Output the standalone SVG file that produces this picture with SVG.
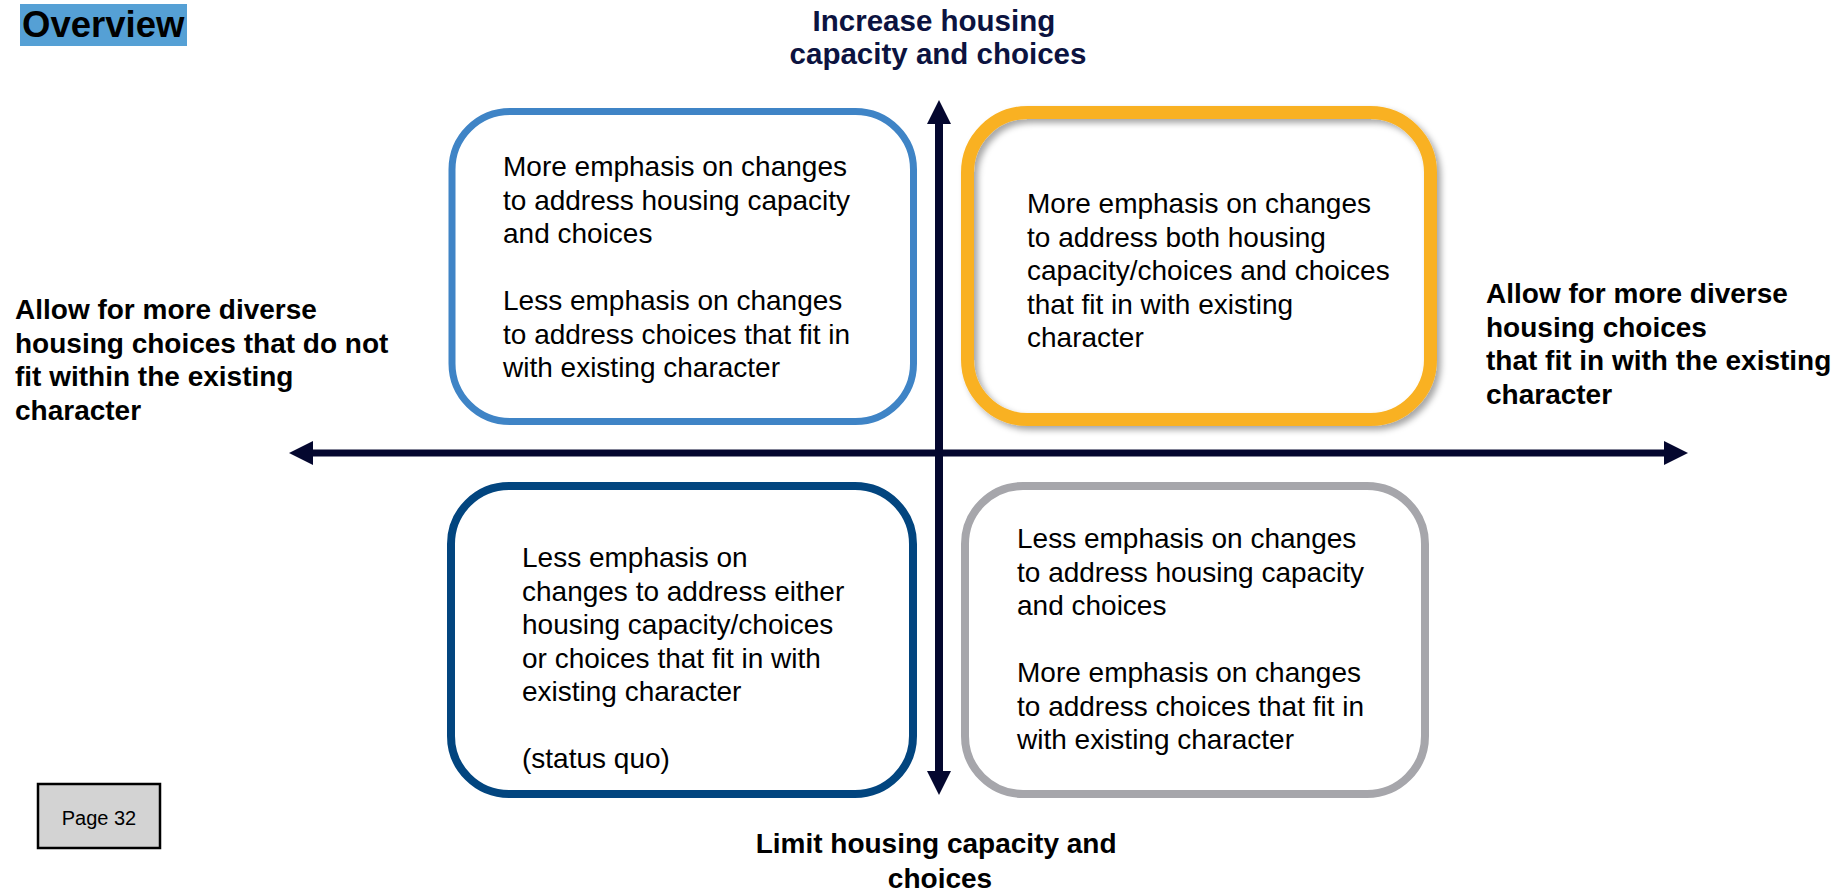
<svg xmlns="http://www.w3.org/2000/svg" width="1834" height="891" viewBox="0 0 1834 891">
  <style>
    text { font-family: "Liberation Sans", Arial, sans-serif; }
    .body { font-size: 28px; fill: #000000; }
    .lbl { font-size: 28px; font-weight: bold; fill: #000000; }
    .box { fill: #ffffff; }
    .axis { stroke: #04072F; fill: none; }
  </style>
  <defs>
    <marker id="head" viewBox="0 0 24 24" refX="0" refY="12" markerWidth="24" markerHeight="24" markerUnits="userSpaceOnUse" orient="auto-start-reverse">
      <path d="M0,0 L24,12 L0,24 z" fill="#04072F"/>
    </marker>
    <filter id="shadow" x="-10%" y="-10%" width="125%" height="125%">
      <feDropShadow dx="4" dy="4" stdDeviation="3" flood-color="#000000" flood-opacity="0.35"/>
    </filter>
  </defs>

  <rect x="0" y="0" width="1834" height="891" fill="#ffffff"/>

  <g id="title">
    <rect x="20" y="4" width="167" height="42" fill="#55A0D5"/>
    <text x="22" y="37" font-size="36.5" font-weight="bold" fill="#000000">Overview</text>
  </g>

  <g id="box-top-left">
    <rect class="box" x="452" y="111.5" width="461.5" height="310" rx="58" ry="58" stroke="#3F84C6" stroke-width="7"/>
    <text class="body" x="503">
      <tspan x="503" y="176">More emphasis on changes</tspan>
      <tspan x="503" y="209.5">to address housing capacity</tspan>
      <tspan x="503" y="243">and choices</tspan>
      <tspan x="503" y="310">Less emphasis on changes</tspan>
      <tspan x="503" y="343.5">to address choices that fit in</tspan>
      <tspan x="503" y="377">with existing character</tspan>
    </text>
  </g>

  <g id="box-top-right">
    <rect x="967.5" y="112.5" width="463" height="307" rx="60" ry="60" fill="none" stroke="#F9B122" stroke-width="13" filter="url(#shadow)"/>
    <text class="body" x="1027">
      <tspan x="1027" y="213">More emphasis on changes</tspan>
      <tspan x="1027" y="246.5">to address both housing</tspan>
      <tspan x="1027" y="280">capacity/choices and choices</tspan>
      <tspan x="1027" y="313.5">that fit in with existing</tspan>
      <tspan x="1027" y="347">character</tspan>
    </text>
  </g>

  <g id="box-bottom-left">
    <rect class="box" x="451" y="486" width="462" height="308" rx="58" ry="58" stroke="#02457F" stroke-width="8"/>
    <text class="body" x="522">
      <tspan x="522" y="567">Less emphasis on</tspan>
      <tspan x="522" y="600.5">changes to address either</tspan>
      <tspan x="522" y="634">housing capacity/choices</tspan>
      <tspan x="522" y="667.5">or choices that fit in with</tspan>
      <tspan x="522" y="701">existing character</tspan>
      <tspan x="522" y="768">(status quo)</tspan>
    </text>
  </g>

  <g id="box-bottom-right">
    <rect class="box" x="965" y="486" width="460" height="308" rx="58" ry="58" stroke="#A6A6AB" stroke-width="8"/>
    <text class="body" x="1017">
      <tspan x="1017" y="548">Less emphasis on changes</tspan>
      <tspan x="1017" y="581.5">to address housing capacity</tspan>
      <tspan x="1017" y="615">and choices</tspan>
      <tspan x="1017" y="682">More emphasis on changes</tspan>
      <tspan x="1017" y="715.5">to address choices that fit in</tspan>
      <tspan x="1017" y="749">with existing character</tspan>
    </text>
  </g>

  <g id="connectors">
    <line class="axis" x1="313" y1="453" x2="1664" y2="453" stroke-width="7" marker-start="url(#head)" marker-end="url(#head)"/>
    <line class="axis" x1="939" y1="124" x2="939" y2="771" stroke-width="8" marker-start="url(#head)" marker-end="url(#head)"/>
  </g>

  <g id="label-top">
    <text class="lbl" text-anchor="middle" style="fill:#0C1340;font-size:29.5px">
      <tspan x="938" y="31">Increase housing</tspan>
      <tspan x="938" y="64">capacity and choices</tspan>
    </text>
  </g>

  <g id="label-bottom">
    <text class="lbl" text-anchor="middle">
      <tspan x="940" y="853">Limit housing capacity and</tspan>
      <tspan x="940" y="888">choices</tspan>
    </text>
  </g>

  <g id="label-left">
    <text class="lbl">
      <tspan x="15" y="319">Allow for more diverse</tspan>
      <tspan x="15" y="352.5">housing choices that do not</tspan>
      <tspan x="15" y="386">fit within the existing</tspan>
      <tspan x="15" y="419.5">character</tspan>
    </text>
  </g>

  <g id="label-right">
    <text class="lbl">
      <tspan x="1486" y="303">Allow for more diverse</tspan>
      <tspan x="1486" y="336.5">housing choices</tspan>
      <tspan x="1486" y="370">that fit in with the existing</tspan>
      <tspan x="1486" y="403.5">character</tspan>
    </text>
  </g>

  <g id="page-box">
    <rect x="38" y="784" width="122" height="64" fill="#D3D3D3" stroke="#000000" stroke-width="2.5"/>
    <text x="99" y="825" font-size="20" text-anchor="middle" fill="#000000">Page 32</text>
  </g>
</svg>
